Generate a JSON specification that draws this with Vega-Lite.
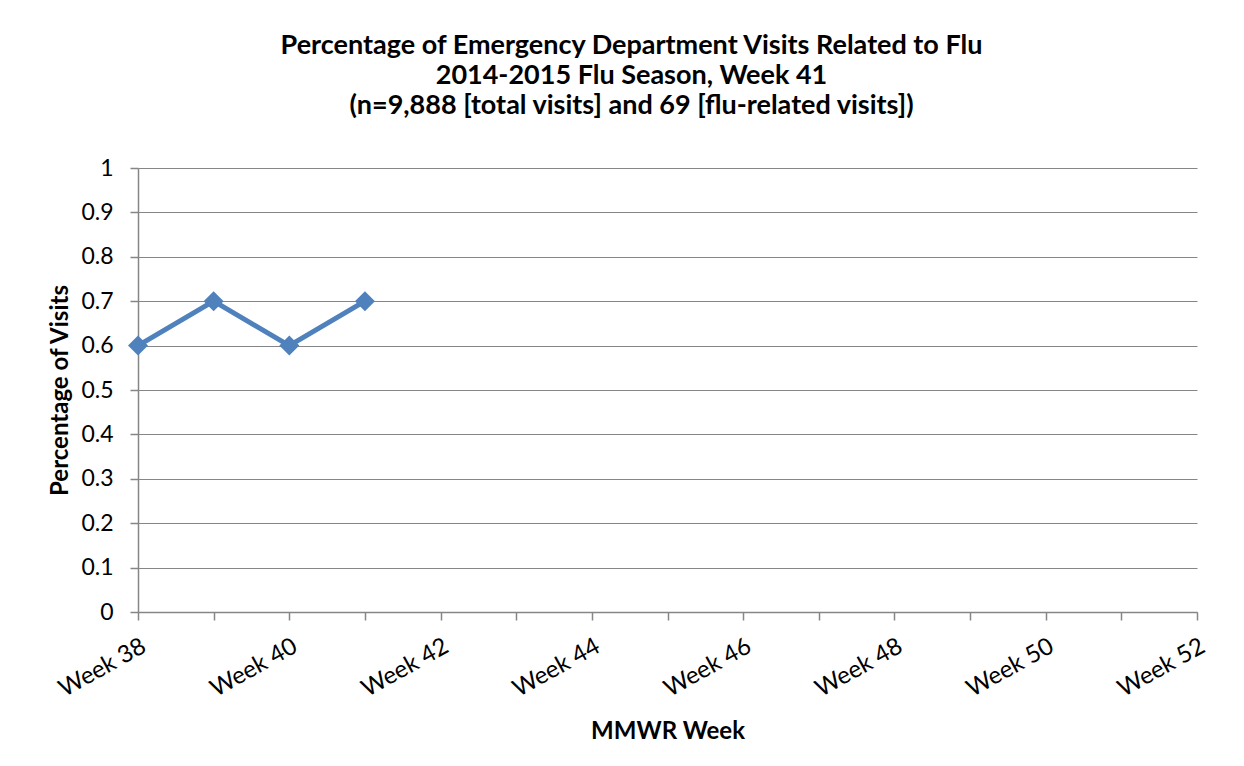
{
  "$schema": "https://vega.github.io/schema/vega-lite/v6.json",
  "width": 1059,
  "height": 444,
  "autosize": "none",
  "padding": {"left": 138, "top": 168, "right": 47, "bottom": 154},
  "background": "white",
  "title": {
    "text": ["Percentage of Emergency Department Visits Related to Flu", "2014-2015 Flu Season, Week 41", "(n=9,888 [total visits] and 69 [flu-related visits])"],
    "font": "Lato",
    "fontSize": 27,
    "fontWeight": "bold",
    "color": "#000000",
    "lineHeight": 30,
    "anchor": "middle",
    "dx": -36,
    "offset": 37
  },
  "data": {
    "values": [
      {"week": 38, "pct": 0.6},
      {"week": 39, "pct": 0.7},
      {"week": 40, "pct": 0.6},
      {"week": 41, "pct": 0.7}
    ]
  },
  "layer": [
    {
      "mark": {"type": "line", "color": "#4F81BD", "strokeWidth": 5, "point": {"shape": "diamond", "size": 400, "filled": true, "color": "#4F81BD", "opacity": 1}},
      "encoding": {
        "x": {
          "field": "week",
          "type": "quantitative",
          "scale": {"domain": [38, 52], "nice": false, "zero": false},
          "axis": {
            "title": "MMWR Week",
            "values": [38, 39, 40, 41, 42, 43, 44, 45, 46, 47, 48, 49, 50, 51, 52],
            "labelExpr": "datum.value % 2 == 0 ? 'Week ' + datum.value : ''",
            "labelAngle": -29,
            "labelFont": "Lato",
            "labelFontSize": 24,
            "labelColor": "#000000",
            "labelPadding": 14,
            "labelOverlap": false,
            "labelFlush": false,
            "grid": false,
            "domainColor": "#868686",
            "domainWidth": 1.5,
            "tickColor": "#868686",
            "tickWidth": 1.5,
            "tickSize": 8,
            "titleFont": "Lato",
            "titleFontSize": 24,
            "titleFontWeight": "bold",
            "titleColor": "#000000",
            "titlePadding": 18
          }
        },
        "y": {
          "field": "pct",
          "type": "quantitative",
          "scale": {"domain": [0, 1], "nice": false},
          "axis": {
            "title": "Percentage of Visits",
            "values": [0, 0.1, 0.2, 0.3, 0.4, 0.5, 0.6, 0.7, 0.8, 0.9, 1],
            "format": "~g",
            "labelFont": "Lato",
            "labelFontSize": 23,
            "labelColor": "#000000",
            "labelPadding": 17,
            "grid": true,
            "gridColor": "#868686",
            "gridWidth": 1.2,
            "domainColor": "#868686",
            "domainWidth": 1.5,
            "tickColor": "#868686",
            "tickWidth": 1.5,
            "tickSize": 8,
            "titleFont": "Lato",
            "titleFontSize": 24,
            "titleFontWeight": "bold",
            "titleColor": "#000000",
            "titlePadding": 8
          }
        }
      }
    }
  ],
  "config": {
    "view": {"stroke": null}
  }
}
